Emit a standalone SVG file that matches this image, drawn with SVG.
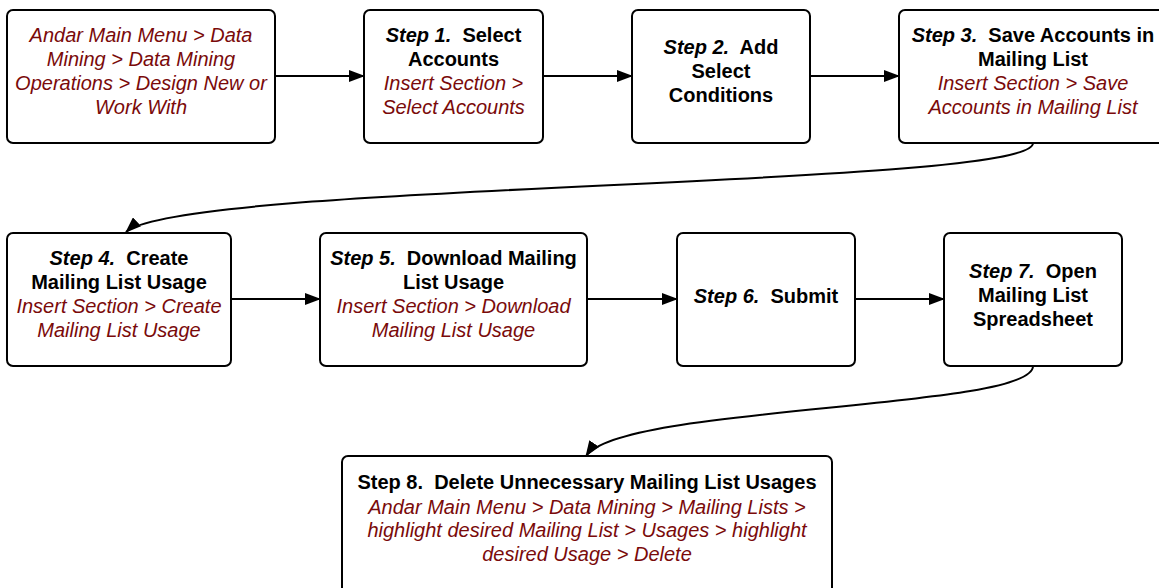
<svg xmlns="http://www.w3.org/2000/svg" width="1159" height="588" viewBox="0 0 1159 588">
<defs>
<marker id="ah" markerWidth="16" markerHeight="12" refX="15" refY="6" orient="auto" markerUnits="userSpaceOnUse">
<path d="M0,0 L16,6 L0,12 Z" fill="#000"/>
</marker>
<style>
.box{fill:#fff;stroke:#000;stroke-width:2}
text{font-family:"Liberation Sans",Arial,sans-serif;font-size:20px;text-anchor:middle;white-space:pre}
.b{font-weight:bold;fill:#000}
.i{font-style:italic}
.r{font-style:italic;fill:#7a0a0a}
.c{fill:none;stroke:#000;stroke-width:2}
</style>
</defs>
<rect width="1159" height="588" fill="#fff"/>
<g id="connectors">
<path class="c" d="M275,76 L364,76" marker-end="url(#ah)"/>
<path class="c" d="M543,76 L632,76" marker-end="url(#ah)"/>
<path class="c" d="M810,76 L899,76" marker-end="url(#ah)"/>
<path class="c" d="M1033,143 C1033,188 180,182 126,232" marker-end="url(#ah)"/>
<path class="c" d="M231,299 L320,299" marker-end="url(#ah)"/>
<path class="c" d="M587,299 L677,299" marker-end="url(#ah)"/>
<path class="c" d="M855,299 L944,299" marker-end="url(#ah)"/>
<path class="c" d="M1033,366 C1033,410 620,405 586,456" marker-end="url(#ah)"/>
</g>
<g id="start">
<rect class="box" x="7" y="10" width="268" height="133" rx="6"/>
<text class="r" x="141" y="42">Andar Main Menu &gt; Data</text>
<text class="r" x="141" y="66">Mining &gt; Data Mining</text>
<text class="r" x="141" y="90">Operations &gt; Design New or</text>
<text class="r" x="141" y="114">Work With</text>
</g>
<g id="step1">
<rect class="box" x="364" y="10" width="179" height="133" rx="6"/>
<text class="b" x="453.5" y="42"><tspan class="i">Step 1.</tspan>  Select</text>
<text class="b" x="453.5" y="66">Accounts</text>
<text class="r" x="453.5" y="90">Insert Section &gt;</text>
<text class="r" x="453.5" y="114">Select Accounts</text>
</g>
<g id="step2">
<rect class="box" x="632" y="10" width="178" height="133" rx="6"/>
<text class="b" x="721" y="54"><tspan class="i">Step 2.</tspan>  Add</text>
<text class="b" x="721" y="78">Select</text>
<text class="b" x="721" y="102">Conditions</text>
</g>
<g id="step3">
<rect class="box" x="899" y="10" width="268" height="133" rx="6"/>
<text class="b" x="1033" y="42"><tspan class="i">Step 3.</tspan>  Save Accounts in</text>
<text class="b" x="1033" y="66">Mailing List</text>
<text class="r" x="1033" y="90">Insert Section &gt; Save</text>
<text class="r" x="1033" y="114">Accounts in Mailing List</text>
</g>
<g id="step4">
<rect class="box" x="7" y="233" width="224" height="133" rx="6"/>
<text class="b" x="119" y="265"><tspan class="i">Step 4.</tspan>  Create</text>
<text class="b" x="119" y="289">Mailing List Usage</text>
<text class="r" x="119" y="313">Insert Section &gt; Create</text>
<text class="r" x="119" y="337">Mailing List Usage</text>
</g>
<g id="step5">
<rect class="box" x="320" y="233" width="267" height="133" rx="6"/>
<text class="b" x="453.5" y="265"><tspan class="i">Step 5.</tspan>  Download Mailing</text>
<text class="b" x="453.5" y="289">List Usage</text>
<text class="r" x="453.5" y="313">Insert Section &gt; Download</text>
<text class="r" x="453.5" y="337">Mailing List Usage</text>
</g>
<g id="step6">
<rect class="box" x="677" y="233" width="178" height="133" rx="6"/>
<text class="b" x="766" y="303"><tspan class="i">Step 6.</tspan>  Submit</text>
</g>
<g id="step7">
<rect class="box" x="944" y="233" width="178" height="133" rx="6"/>
<text class="b" x="1033" y="278"><tspan class="i">Step 7.</tspan>  Open</text>
<text class="b" x="1033" y="302">Mailing List</text>
<text class="b" x="1033" y="326">Spreadsheet</text>
</g>
<g id="step8">
<rect class="box" x="342" y="456" width="490" height="140" rx="6"/>
<text class="b" x="587" y="489">Step 8.  Delete Unnecessary Mailing List Usages</text>
<text class="r" x="587" y="514">Andar Main Menu &gt; Data Mining &gt; Mailing Lists &gt;</text>
<text class="r" x="587" y="537">highlight desired Mailing List &gt; Usages &gt; highlight</text>
<text class="r" x="587" y="561">desired Usage &gt; Delete</text>
</g>
</svg>
